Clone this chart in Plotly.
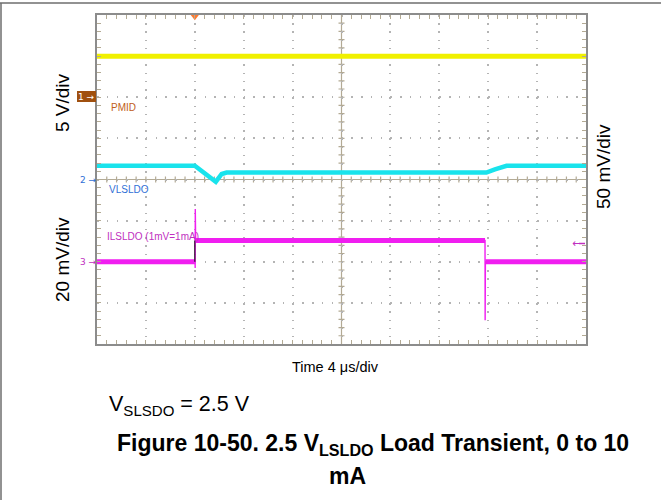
import plotly.graph_objects as go

# ---------------- data ----------------
TIME_PER_DIV_US = 4
N_XDIV, N_YDIV = 10, 8
TRIGGER_US = 8.0

# Channel 1: PMID, 5 V/div, ground marker at +2 div
pmid_t = [0, 40]
pmid_v = [5.0, 5.0]
PMID_SCALE, PMID_OFFSET = 5.0, 2.0

# Channel 2: VLSLDO (AC), 50 mV/div, marker at 0 div
vls_t = [0, 8.0, 9.72, 10.2, 10.6, 31.85, 32.55, 33.5, 40]
vls_mv = [16.8, 16.8, -2.7, 6.7, 8.5, 8.5, 12.4, 16.6, 16.6]
VLS_SCALE, VLS_OFFSET = 50.0, 0.0

# Channel 3: ILSLDO (1 mV = 1 mA), 20 mV/div, marker at -2 div
ils_t = [0, 8.02, 8.03, 8.04, 8.07, 31.74, 31.75, 31.77, 40]
ils_ma = [0, 0, -3, 25.6, 10.3, 10.3, -28.4, 0, 0]
ILS_SCALE, ILS_OFFSET = 20.0, -2.0
ILS_PLATEAUS = [(0, 1), (4, 5), (7, 8)]
ILS_LOW, ILS_HIGH = 0.0, 10.3

# ---------------- geometry helpers ----------------
W, H = 661, 500
L, R, T, B = 97, 586, 15, 344
X_MAX = TIME_PER_DIV_US * N_XDIV
Y_HALF = N_YDIV / 2


def px(p):
    return (p - L) / (R - L)


def py(p):
    return (B - p) / (B - T)


def to_div(vals, scale, off):
    return [None if v is None else v / scale + off for v in vals]


FONT = "Liberation Sans, Arial, sans-serif"
SYM = "DejaVu Sans, sans-serif"
GRID = "#b4b4b4"
TAN = "#b3aa94"
YELLOW = "#f0f000"
CYAN = "#19e3ec"
MAGENTA = "#f01ef0"

fig = go.Figure()

# PMID
fig.add_trace(go.Scatter(x=pmid_t, y=to_div(pmid_v, PMID_SCALE, PMID_OFFSET),
                         mode="lines", line=dict(color=YELLOW, width=5),
                         hoverinfo="skip", showlegend=False))
# VLSLDO
fig.add_trace(go.Scatter(x=vls_t, y=to_div(vls_mv, VLS_SCALE, VLS_OFFSET),
                         mode="lines", line=dict(color=CYAN, width=4.5),
                         hoverinfo="skip", showlegend=False))
# ILSLDO thin trace incl. spikes
fig.add_trace(go.Scatter(x=ils_t, y=to_div(ils_ma, ILS_SCALE, ILS_OFFSET),
                         mode="lines", line=dict(color=MAGENTA, width=1.4),
                         hoverinfo="skip", showlegend=False))
# ILSLDO thick plateau band
bx, by = [], []
for a, b in ILS_PLATEAUS:
    bx += [ils_t[a], ils_t[b], None]
    by += [ils_ma[a], ils_ma[b], None]
fig.add_trace(go.Scatter(x=bx, y=to_div(by, ILS_SCALE, ILS_OFFSET),
                         mode="lines", line=dict(color=MAGENTA, width=5),
                         hoverinfo="skip", showlegend=False))
# dark rising edge
fig.add_trace(go.Scatter(x=[TRIGGER_US, TRIGGER_US],
                         y=to_div([ILS_LOW, ILS_HIGH], ILS_SCALE, ILS_OFFSET),
                         mode="lines", line=dict(color="#3a1a3a", width=1.3),
                         hoverinfo="skip", showlegend=False))
# trigger marker at top
fig.add_trace(go.Scatter(x=[TRIGGER_US], y=[Y_HALF - 0.04], mode="markers",
                         marker=dict(symbol="triangle-down", size=7, color="#ff7a30"),
                         cliponaxis=False, hoverinfo="skip", showlegend=False))

# ---------------- centre crosshair with ticks ----------------
mx = TIME_PER_DIV_US / 5
my = 0.2
tx = 3 / ((R - L) / X_MAX)
ty = 3 / ((B - T) / N_YDIV)
cx = X_MAX / 2
path = f"M {cx},{-Y_HALF} L {cx},{Y_HALF} M 0,0 L {X_MAX},0 "
k = 1
while k * mx < X_MAX - 1e-9:
    x = k * mx
    path += f"M {x},{-ty} L {x},{ty} "
    k += 1
k = 1
while -Y_HALF + k * my < Y_HALF - 1e-9:
    y = -Y_HALF + k * my
    path += f"M {cx - tx},{y} L {cx + tx},{y} "
    k += 1

shapes = [
    dict(type="path", path=path, xref="x", yref="y", layer="below",
         line=dict(color=TAN, width=1.2)),
    # page border lines
    dict(type="line", xref="paper", yref="paper", x0=px(0), x1=px(W), y0=py(3), y1=py(3),
         line=dict(color="#6e6e6e", width=1.5)),
    dict(type="line", xref="paper", yref="paper", x0=px(1), x1=px(1), y0=py(3), y1=py(H),
         line=dict(color="#6e6e6e", width=1.5)),
    # channel 1 marker box
    dict(type="rect", xref="paper", yref="paper", x0=px(77), x1=px(96), y0=py(91), y1=py(102),
         fillcolor="#a0500f", line=dict(width=0)),
    # trigger level tick on right edge
    dict(type="line", xref="paper", yref="paper", x0=px(579), x1=px(585), y0=py(243.5), y1=py(243.5),
         line=dict(color="#c030c0", width=1.5)),
]

ann = []


def add_text(text, x, y, size, color="black", xanchor="center", angle=0, font=FONT):
    ann.append(dict(text=text, x=px(x), y=py(y), xref="paper", yref="paper",
                    xanchor=xanchor, yanchor="middle", showarrow=False, textangle=angle,
                    font=dict(size=size, color=color, family=font)))


add_text("PMID", 109, 107, 10, "#c0601a", "left")
add_text("VLSLDO", 107, 189, 10, "#2f6fd6", "left")
add_text("ILSLDO (1mV=1mA)", 105, 237, 10, "#c030c0", "left")
add_text("1 →", 86.5, 96.5, 9, "white", font=SYM)
add_text("2 →", 88, 179.5, 9, "#2f6fd6", font=SYM)
add_text("3 →", 88, 262, 9, "#c030c0", font=SYM)
add_text("←", 576, 243, 11, "#c030c0", font=SYM)

add_text("5 V/div", 62, 103, 19, angle=-90)
add_text("20 mV/div", 62, 260, 19, angle=-90)
add_text("50 mV/div", 604, 167, 19, angle=-90)
add_text("Time 4 μs/div", 335, 367, 14.5)
add_text("V<sub>SLSDO</sub> = 2.5 V", 107, 405, 21.5, xanchor="left")
add_text("<b>Figure 10-50. 2.5 V<sub>LSLDO</sub> Load Transient, 0 to 10</b>", 373, 444, 23)
add_text("<b>mA</b>", 347, 476, 23)

fig.update_layout(
    width=W, height=H,
    margin=dict(l=L, r=W - R, t=T, b=H - B),
    paper_bgcolor="white", plot_bgcolor="white",
    shapes=shapes, annotations=ann,
    xaxis=dict(range=[0, X_MAX], dtick=TIME_PER_DIV_US, tick0=0, showticklabels=False,
               showgrid=True, gridcolor=GRID, gridwidth=1.5, griddash="1.5px,6.73px",
               zeroline=False, showline=True, linecolor="#8c8c8c", linewidth=2,
               mirror="ticks", ticks="inside", ticklen=4, tickcolor=TAN,
               minor=dict(dtick=mx, ticks="inside", ticklen=4, tickcolor=TAN, showgrid=False)),
    yaxis=dict(range=[-Y_HALF, Y_HALF], dtick=1, tick0=0, showticklabels=False,
               showgrid=True, gridcolor=GRID, gridwidth=1.5, griddash="1.5px,8.28px",
               zeroline=False, showline=True, linecolor="#8c8c8c", linewidth=2,
               mirror="ticks", ticks="inside", ticklen=4, tickcolor=TAN,
               minor=dict(dtick=my, ticks="inside", ticklen=4, tickcolor=TAN, showgrid=False)),
)

fig.write_html("out.html", config={"displayModeBar": False},
               post_script="document.body.style.margin='0';")
